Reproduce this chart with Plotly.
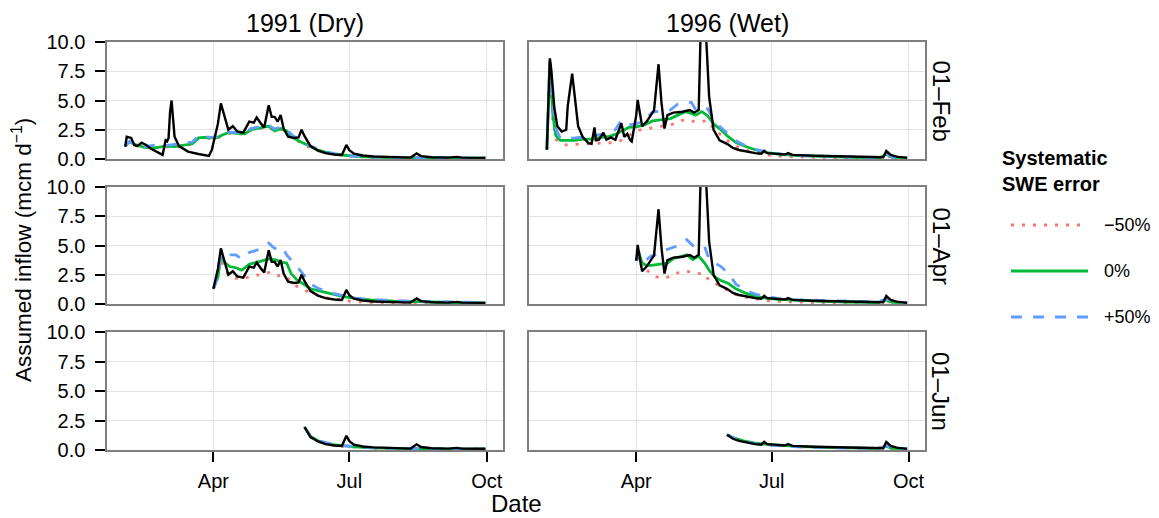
import plotly.graph_objects as go
from plotly.subplots import make_subplots

# ---- facet labels and styling keys -------------------------------------
YEARS = [1991, 1996]
YEAR_LABELS = ["1991 (Dry)", "1996 (Wet)"]
START_LABELS = ["01–Feb", "01–Apr", "01–Jun"]
START_DAYS = ["02-01", "04-01", "06-01"]
SCENARIOS = ["−50%", "0%", "+50%"]
SCEN_COLORS = ["#F8766D", "#00BA38", "#619CFF"]
SCEN_DASH = ["3px,8px", "solid", "11px,11px"]
X_TICK_DAYS = ["04-01", "07-01", "10-01"]
X_TICK_TEXT = ["Apr", "Jul", "Oct"]
Y_TICKS = [0, 2.5, 5, 7.5, 10]
Y_TICK_TEXT = ["0.0", "2.5", "5.0", "7.5", "10.0"]

# ---- observed inflow (mcm/d) --------------------------------------------
obs_1991_days = ["02-01", "02-02", "02-05", "02-07", "02-09", "02-12", "02-15", "02-18",
                 "02-26", "02-28", "03-01", "03-02", "03-03", "03-04", "03-05", "03-06",
                 "03-09", "03-15", "03-22", "03-29", "03-31", "04-01", "04-03", "04-04",
                 "04-06", "04-09", "04-11", "04-14", "04-17", "04-21", "04-25", "04-28",
                 "04-30", "05-03", "05-05", "05-08", "05-10", "05-12", "05-14", "05-16",
                 "05-18", "05-21", "05-25", "05-28", "05-30", "06-01", "06-05", "06-10",
                 "06-15", "06-21", "06-26", "06-29", "07-01", "07-04", "07-10", "07-17",
                 "07-31", "08-11", "08-15", "08-18", "08-25", "09-05", "09-11", "09-14",
                 "09-30"]
obs_1991 = [1.05, 1.9, 1.8, 1.2, 1.1, 1.4, 1.2, 0.9,
            0.35, 1.6, 1.5, 1.8, 4.0, 5.0, 3.5, 1.9,
            1.1, 0.63, 0.43, 0.26, 0.8, 1.3, 2.3, 3.0,
            4.75, 3.5, 2.5, 2.8, 2.35, 2.25, 3.2, 3.1,
            3.55, 3.0, 2.7, 4.6, 3.6, 3.6, 3.2, 3.75,
            2.6, 1.9, 1.8, 1.85, 2.5, 1.95, 1.1, 0.72,
            0.5, 0.38, 0.34, 1.2, 0.75, 0.45, 0.3, 0.22,
            0.16, 0.12, 0.48, 0.25, 0.15, 0.12, 0.18, 0.12,
            0.1]

obs_1996_days = ["02-01", "02-03", "02-04", "02-05", "02-06", "02-08", "02-11", "02-14",
                 "02-15", "02-18", "02-20", "02-22", "02-25", "02-29", "03-02", "03-04",
                 "03-05", "03-07", "03-10", "03-12", "03-15", "03-18", "03-22", "03-24",
                 "03-26", "03-28", "03-29", "04-01", "04-02", "04-04", "04-05", "04-08",
                 "04-12", "04-13", "04-16", "04-17", "04-18", "04-20", "04-22", "04-26",
                 "05-02", "05-07", "05-10", "05-13", "05-14", "05-15", "05-16", "05-17",
                 "05-18", "05-19", "05-20", "05-23", "05-27", "06-01", "06-05", "06-09",
                 "06-15", "06-20", "06-24", "06-26", "06-28", "07-05", "07-10", "07-12",
                 "07-15", "07-29", "08-18", "09-10", "09-14", "09-16", "09-19", "09-23",
                 "09-30"]
obs_1996 = [0.8, 8.6, 7.6, 6.0, 4.4, 2.8, 2.35, 2.5,
            4.5, 7.3, 5.3, 2.8, 1.9, 1.35, 1.3, 2.7,
            1.6, 1.65, 2.25, 1.65, 1.85, 1.65, 3.05, 1.9,
            2.15, 1.6, 1.5, 3.7, 5.05, 3.5, 2.8, 3.2,
            3.96, 4.15, 8.1, 6.5, 4.8, 2.6, 3.76, 3.96,
            4.04, 4.19, 3.96, 4.2, 11.0, 14.5, 15.5, 13.0,
            10.5, 7.3, 5.3, 2.5, 1.6, 1.3, 0.95, 0.77,
            0.6, 0.5, 0.45, 0.7, 0.5, 0.42, 0.38, 0.5,
            0.35, 0.28, 0.2, 0.14, 0.15, 0.68, 0.35, 0.2,
            0.1]

# ---- 1991 forecasts issued 1 Feb -----------------------------------------
fc_1991_feb_days = ["02-01", "02-04", "02-08", "02-14", "02-21", "02-28", "03-06", "03-13",
                    "03-18", "03-22", "03-26", "03-30", "04-03", "04-07", "04-11", "04-17",
                    "04-22", "04-26", "04-30", "05-04", "05-08", "05-12", "05-16", "05-20",
                    "05-24", "05-28", "06-01", "06-05", "06-10", "06-15", "06-21", "06-28",
                    "07-05", "07-15", "07-31", "08-20", "09-10", "09-30"]
fc_1991_feb_m50 = [1.1, 1.5, 1.2, 1.0, 0.95, 1.05, 1.0, 1.15,
                   1.25, 1.75, 1.8, 1.75, 1.75, 2.0, 2.2, 2.15,
                   2.1, 2.45, 2.55, 2.65, 2.75, 2.35, 2.55, 2.35,
                   1.8, 1.5, 1.25, 0.95, 0.72, 0.55, 0.4, 0.3,
                   0.21, 0.15, 0.11, 0.09, 0.08, 0.07]
fc_1991_feb_0 = [1.1, 1.5, 1.2, 1.0, 0.95, 1.1, 1.05, 1.2,
                 1.3, 1.8, 1.85, 1.8, 1.8, 2.05, 2.25, 2.2,
                 2.15, 2.5, 2.6, 2.7, 2.8, 2.4, 2.6, 2.4,
                 1.85, 1.55, 1.3, 1.0, 0.75, 0.58, 0.42, 0.32,
                 0.22, 0.16, 0.12, 0.1, 0.09, 0.08]
fc_1991_feb_p50 = [1.1, 1.5, 1.15, 1.05, 1.2, 1.15, 1.25, 1.35,
                   1.45, 2.0, 1.95, 1.85, 1.9, 2.1, 2.3, 2.25,
                   2.2, 2.6, 2.7, 2.8, 2.9, 2.55, 2.75, 2.5,
                   2.0, 1.7, 1.4, 1.1, 0.85, 0.62, 0.45, 0.34,
                   0.25, 0.18, 0.13, 0.11, 0.1, 0.09]

# ---- 1991 forecasts issued 1 Apr -----------------------------------------
fc_1991_apr_days = ["04-01", "04-04", "04-06", "04-09", "04-12", "04-16", "04-20", "04-25",
                    "04-30", "05-04", "05-08", "05-12", "05-17", "05-20", "05-23", "05-27",
                    "06-01", "06-05", "06-10", "06-15", "06-20", "06-27", "07-05", "07-15",
                    "07-31", "08-20", "09-10", "09-30"]
fc_1991_apr_m50 = [1.3, 2.3, 3.8, 2.9, 2.34, 2.2, 2.15, 2.3,
                   2.5, 2.6, 2.7, 2.4, 2.45, 2.3, 1.9, 1.5,
                   1.2, 0.95, 0.75, 0.55, 0.42, 0.3, 0.2, 0.14,
                   0.1, 0.08, 0.07, 0.06]
fc_1991_apr_0 = [1.3, 2.3, 4.0, 3.5, 3.2, 3.1, 2.9, 3.4,
                 3.56, 3.7, 3.85, 3.8, 3.56, 3.5, 2.6, 2.05,
                 1.6, 1.3, 1.15, 1.0, 0.8, 0.63, 0.48, 0.36,
                 0.25, 0.17, 0.13, 0.1]
fc_1991_apr_p50 = [1.3, 2.3, 4.2, 4.1, 4.2, 4.2, 3.85, 4.4,
                   4.6, 4.8, 5.2, 4.75, 4.9, 4.2, 3.76, 3.2,
                   2.4, 1.7, 1.35, 1.1, 0.9, 0.72, 0.5, 0.38,
                   0.28, 0.2, 0.17, 0.13]

# ---- 1991 forecasts issued 1 Jun -----------------------------------------
fc_1991_jun_days = ["06-01", "06-05", "06-10", "06-15", "06-20", "06-26", "07-05", "07-15",
                    "07-31", "08-20", "09-10", "09-30"]
fc_1991_jun_m50 = [1.95, 1.1, 0.74, 0.55, 0.42, 0.33, 0.24, 0.16, 0.12, 0.09, 0.07, 0.06]
fc_1991_jun_0 = [1.95, 1.15, 0.78, 0.58, 0.45, 0.36, 0.26, 0.18, 0.13, 0.1, 0.08, 0.07]
fc_1991_jun_p50 = [1.95, 1.2, 0.82, 0.62, 0.48, 0.38, 0.28, 0.2, 0.14, 0.11, 0.09, 0.08]

# ---- 1996 forecasts issued 1 Feb -----------------------------------------
fc_1996_feb_days = ["02-01", "02-03", "02-05", "02-07", "02-10", "02-14", "02-20", "02-26",
                    "03-03", "03-08", "03-13", "03-18", "03-22", "03-27", "04-01", "04-06",
                    "04-12", "04-18", "04-24", "04-29", "05-04", "05-08", "05-11", "05-15",
                    "05-19", "05-23", "05-27", "06-01", "06-07", "06-14", "06-21", "06-28",
                    "07-08", "07-20", "08-05", "08-25", "09-12", "09-16", "09-20", "09-30"]
fc_1996_feb_m50 = [0.8, 8.3, 3.3, 1.7, 1.35, 1.2, 1.25, 1.3,
                   1.3, 1.35, 1.35, 1.45, 1.6, 2.0, 2.4, 2.55,
                   2.7, 2.8, 2.9, 3.15, 3.4, 3.25, 3.2, 3.2,
                   3.3, 2.6, 2.15, 1.6, 1.1, 0.75, 0.5, 0.33,
                   0.22, 0.16, 0.12, 0.1, 0.08, 0.3, 0.1, 0.07]
fc_1996_feb_0 = [0.8, 8.3, 3.8, 2.0, 1.6, 1.6, 1.6, 1.7,
                 1.7, 1.85, 1.9, 2.1, 2.35, 2.7, 2.75, 2.9,
                 3.25, 3.35, 3.45, 3.75, 4.05, 3.9, 3.75, 4.05,
                 3.7, 3.0, 2.6, 2.0, 1.4, 1.05, 0.75, 0.55,
                 0.38, 0.28, 0.2, 0.15, 0.12, 0.4, 0.15, 0.1]
fc_1996_feb_p50 = [0.8, 8.3, 4.5, 2.6, 1.8, 1.75, 1.8, 1.85,
                   1.95, 2.1, 2.2, 2.5, 3.3, 2.9, 3.0, 3.3,
                   4.0, 4.1, 4.2, 4.7, 4.8, 4.85, 4.2, 4.4,
                   4.3, 3.4, 2.8, 2.2, 1.55, 1.1, 0.8, 0.6,
                   0.42, 0.3, 0.22, 0.16, 0.13, 0.45, 0.16, 0.11]

# ---- 1996 forecasts issued 1 Apr -----------------------------------------
fc_1996_apr_days = ["04-01", "04-03", "04-05", "04-08", "04-11", "04-14", "04-18", "04-22",
                    "04-26", "04-30", "05-05", "05-09", "05-13", "05-17", "05-20", "05-24",
                    "05-28", "06-02", "06-07", "06-13", "06-20", "06-27", "07-05", "07-18",
                    "08-01", "08-20", "09-10", "09-16", "09-20", "09-30"]
fc_1996_apr_m50 = [3.7, 4.0, 3.0, 2.95, 2.5, 2.34, 2.2, 2.3,
                   2.6, 2.7, 2.8, 2.7, 2.6, 2.6, 2.0, 1.75,
                   1.5, 1.1, 0.8, 0.6, 0.42, 0.3, 0.22, 0.16,
                   0.12, 0.1, 0.08, 0.25, 0.08, 0.06]
fc_1996_apr_0 = [3.7, 4.3, 3.5, 3.3, 3.3, 3.35, 3.45, 3.5,
                 3.9, 4.0, 4.2, 3.8, 4.1, 3.5, 2.9, 2.3,
                 2.0, 1.75, 1.3, 0.95, 0.65, 0.5, 0.4, 0.3,
                 0.24, 0.17, 0.13, 0.35, 0.14, 0.1]
fc_1996_apr_p50 = [3.7, 4.4, 3.7, 3.8, 4.1, 4.2, 4.5, 4.7,
                   4.85, 5.0, 5.5, 5.0, 5.0, 4.9, 3.8, 3.5,
                   3.2, 2.6, 1.7, 1.2, 0.85, 0.65, 0.48, 0.36,
                   0.3, 0.22, 0.17, 0.45, 0.18, 0.12]

# ---- 1996 forecasts issued 1 Jun -----------------------------------------
fc_1996_jun_days = ["06-01", "06-06", "06-12", "06-19", "06-26", "07-05", "07-15", "07-30",
                    "08-20", "09-10", "09-16", "09-20", "09-30"]
fc_1996_jun_m50 = [1.3, 1.0, 0.76, 0.57, 0.47, 0.38, 0.3, 0.23, 0.17, 0.12, 0.25, 0.12, 0.08]
fc_1996_jun_0 = [1.3, 1.0, 0.78, 0.6, 0.5, 0.4, 0.32, 0.25, 0.18, 0.13, 0.3, 0.14, 0.1]
fc_1996_jun_p50 = [1.3, 1.0, 0.75, 0.55, 0.45, 0.36, 0.28, 0.22, 0.16, 0.12, 0.35, 0.13, 0.09]

observed = {1991: (obs_1991_days, obs_1991), 1996: (obs_1996_days, obs_1996)}
forecasts = {
    (1991, 0): (fc_1991_feb_days, [fc_1991_feb_m50, fc_1991_feb_0, fc_1991_feb_p50]),
    (1991, 1): (fc_1991_apr_days, [fc_1991_apr_m50, fc_1991_apr_0, fc_1991_apr_p50]),
    (1991, 2): (fc_1991_jun_days, [fc_1991_jun_m50, fc_1991_jun_0, fc_1991_jun_p50]),
    (1996, 0): (fc_1996_feb_days, [fc_1996_feb_m50, fc_1996_feb_0, fc_1996_feb_p50]),
    (1996, 1): (fc_1996_apr_days, [fc_1996_apr_m50, fc_1996_apr_0, fc_1996_apr_p50]),
    (1996, 2): (fc_1996_jun_days, [fc_1996_jun_m50, fc_1996_jun_0, fc_1996_jun_p50]),
}

# ---- layout geometry (pixels in a 1159 x 518 page) ------------------------
W, H = 1159, 518
COL_PX = [(107.3, 503.3), (529.0, 925.0)]
ROW_PX = [(42.0, 159.0), (187.0, 304.0), (332.0, 450.0)]
FONT = "Liberation Sans, Arial, Helvetica, sans-serif"


def px_x(p):
    return p / W


def px_y(p):
    return 1 - p / H


def dated(year, days):
    return [f"{year}-{d}" for d in days]


fig = make_subplots(rows=3, cols=2)

for r in range(3):
    for c, year in enumerate(YEARS):
        fdays, fvals = forecasts[(year, r)]
        for k in range(3):
            fig.add_trace(go.Scatter(
                x=dated(year, fdays), y=fvals[k], mode="lines",
                line=dict(color=SCEN_COLORS[k], width=2.8, dash=SCEN_DASH[k]),
                name=SCENARIOS[k], showlegend=False, hoverinfo="skip"),
                row=r + 1, col=c + 1)
        odays, ovals = observed[year]
        keep = [i for i, d in enumerate(odays) if d >= START_DAYS[r]]
        fig.add_trace(go.Scatter(
            x=dated(year, [odays[i] for i in keep]), y=[ovals[i] for i in keep],
            mode="lines", line=dict(color="black", width=2.4),
            name="Observed", showlegend=False, hoverinfo="skip"),
            row=r + 1, col=c + 1)

        x0, x1 = COL_PX[c]
        y0, y1 = ROW_PX[r]
        bottom = r == 2
        left = c == 0
        fig.update_xaxes(
            domain=[px_x(x0), px_x(x1)], type="date", automargin=False,
            range=[f"{year}-01-20", f"{year}-10-12"],
            tickvals=dated(year, X_TICK_DAYS), ticktext=X_TICK_TEXT,
            showticklabels=bottom, ticks="outside" if bottom else "",
            ticklen=10, tickwidth=2, tickcolor="black", ticklabelstandoff=2,
            tickfont=dict(family=FONT, size=20, color="black"),
            showgrid=True, gridcolor="#E3E3E3", gridwidth=1.2, zeroline=False,
            showline=True, linecolor="#7F7F7F", linewidth=1.8, mirror=True,
            row=r + 1, col=c + 1)
        fig.update_yaxes(
            domain=[px_y(y1), px_y(y0)], range=[0, 10], automargin=False,
            tickvals=Y_TICKS, ticktext=Y_TICK_TEXT,
            showticklabels=left, ticks="outside" if left else "",
            ticklen=10, tickwidth=2, tickcolor="black", ticklabelstandoff=6,
            tickfont=dict(family=FONT, size=20, color="black"),
            showgrid=True, gridcolor="#E3E3E3", gridwidth=1.2, zeroline=False,
            showline=True, linecolor="#7F7F7F", linewidth=1.8, mirror=True,
            row=r + 1, col=c + 1)

annotations = []
# column strips
for c, label in enumerate(YEAR_LABELS):
    annotations.append(dict(
        text=label, x=px_x(sum(COL_PX[c]) / 2), y=px_y(23), xref="paper", yref="paper",
        xanchor="center", yanchor="middle", showarrow=False,
        font=dict(family=FONT, size=25, color="black")))
# row strips
for r, label in enumerate(START_LABELS):
    annotations.append(dict(
        text=label, x=px_x(941), y=px_y(sum(ROW_PX[r]) / 2), xref="paper", yref="paper",
        xanchor="center", yanchor="middle", textangle=90, showarrow=False,
        font=dict(family=FONT, size=24, color="black")))
# axis titles
annotations.append(dict(
    text="Date", x=px_x(516), y=px_y(503), xref="paper", yref="paper",
    xanchor="center", yanchor="middle", showarrow=False,
    font=dict(family=FONT, size=24, color="black")))
annotations.append(dict(
    text="Assumed inflow (mcm d<sup>−1</sup>)", x=px_x(22), y=px_y(250),
    xref="paper", yref="paper", xanchor="center", yanchor="middle",
    textangle=-90, showarrow=False, font=dict(family=FONT, size=22.5, color="black")))

# legend drawn as keys + labels
annotations.append(dict(
    text="<b>Systematic<br>SWE error</b>", x=px_x(1000), y=px_y(171),
    xref="paper", yref="paper", xanchor="left", yanchor="middle", align="left",
    showarrow=False, font=dict(family=FONT, size=20, color="black")))
LEG_Y = [225, 271, 317]
shapes = []
for k in range(3):
    shapes.append(dict(
        type="line", xref="paper", yref="paper",
        x0=px_x(1011), x1=px_x(1088), y0=px_y(LEG_Y[k]), y1=px_y(LEG_Y[k]),
        line=dict(color=SCEN_COLORS[k], width=2.8, dash=SCEN_DASH[k])))
    annotations.append(dict(
        text=SCENARIOS[k], x=px_x(1102), y=px_y(LEG_Y[k]), xref="paper", yref="paper",
        xanchor="left", yanchor="middle", showarrow=False,
        font=dict(family=FONT, size=18, color="black")))

fig.update_layout(
    width=W, height=H, margin=dict(l=0, r=0, t=0, b=0, autoexpand=False),
    paper_bgcolor="white", plot_bgcolor="white",
    showlegend=False, annotations=annotations, shapes=shapes,
    font=dict(family=FONT, color="black"))

fig.write_html("out.html")
